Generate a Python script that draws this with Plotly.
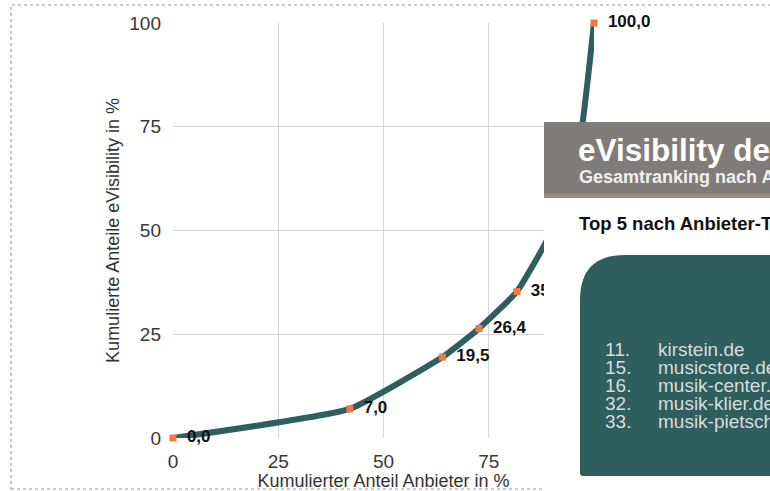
import plotly.graph_objects as go

# Data
anteil_anbieter = [0, 42, 64, 72.7, 81.7, 89, 93.5, 97, 100]
anteil_evis = [0.0, 7.0, 19.5, 26.4, 35.3, 48.0, 60.5, 74.0, 100.0]
x_ticks = [0, 25, 50, 75, 100]
y_ticks = [0, 25, 50, 75, 100]
top5_ranks = ["11.", "15.", "16.", "32.", "33."]
top5_domains = ["kirstein.de", "musicstore.de", "musik-center.de", "musik-klier.de", "musik-pietsch.de"]

W, H = 770, 491
L, R, T, B = 173, 176, 23, 53
PW, PH = W - L - R, H - T - B
FONT = "Liberation Sans, Arial"


def px(x):
    return (x - L) / PW


def py(y):
    return (H - B - y) / PH


labels = ["\u2002" + f"{v:.1f}".replace(".", ",") for v in anteil_evis]
positions = ["middle right"] * len(labels)
positions[-2] = "bottom right"

fig = go.Figure()
fig.add_trace(go.Scatter(
    x=anteil_anbieter, y=anteil_evis,
    mode="lines+markers+text",
    line=dict(color="#2e5e5e", width=6, shape="spline", smoothing=0.4),
    marker=dict(symbol="square", size=7, color="#f07c3c"),
    text=labels, textposition=positions,
    textfont=dict(family=FONT, size=17, color="#111111", weight="bold"),
    cliponaxis=False, hoverinfo="skip", showlegend=False,
))

axis_common = dict(
    range=[0, 100], showgrid=True, gridcolor="#d4d4d4", gridwidth=1.3,
    zeroline=False, showline=False, ticks="", automargin=False,
    tickfont=dict(family=FONT, size=19, color="#383838"),
    title_font=dict(family=FONT, size=18, color="#333333"),
)
fig.update_xaxes(**axis_common, tickvals=x_ticks, ticktext=[str(v) for v in x_ticks],
                 ticklabelstandoff=10,
                 title_text="Kumulierter Anteil Anbieter in %", title_standoff=0)
fig.update_yaxes(**axis_common, tickvals=y_ticks, ticktext=[str(v) for v in y_ticks],
                 ticklabelstandoff=11,
                 title_text="Kumulierte Anteile eVisibility in %", title_standoff=4)

shapes = []
# dashed outer border
shapes.append(dict(type="rect", xref="paper", yref="paper",
                   x0=px(11), x1=px(800), y0=py(489), y1=py(5),
                   line=dict(color="#9a9a9a", width=1.2, dash="dot"), layer="below"))
# overlay white background
shapes.append(dict(type="rect", xref="paper", yref="paper",
                   x0=px(544), x1=px(800), y0=py(495), y1=py(122),
                   fillcolor="white", line=dict(width=0), layer="above"))
# grey header
shapes.append(dict(type="rect", xref="paper", yref="paper",
                   x0=px(544), x1=px(800), y0=py(194), y1=py(122),
                   fillcolor="#7f7c7a", line=dict(width=0), layer="above"))
# brownish underline
shapes.append(dict(type="rect", xref="paper", yref="paper",
                   x0=px(544), x1=px(800), y0=py(198), y1=py(194),
                   fillcolor="#a08878", line=dict(width=0), layer="above"))
# teal rounded box
x0, x1, y0, y1, r = 580, 800, 255, 476, 45
path = (f"M {px(x0)},{py(y0 + r)} Q {px(x0)},{py(y0)} {px(x0 + r)},{py(y0)} "
        f"L {px(x1)},{py(y0)} L {px(x1)},{py(y1)} L {px(x0 + 3)},{py(y1)} "
        f"Q {px(x0)},{py(y1)} {px(x0)},{py(y1 - 3)} Z")
shapes.append(dict(type="path", xref="paper", yref="paper", path=path,
                   fillcolor="#2f5e5e", line=dict(width=0), layer="above"))

annotations = []
annotations.append(dict(xref="paper", yref="paper", x=px(576), y=py(150),
                        text="<b>eVisibility der Musikinstrumentenhändler</b>", showarrow=False,
                        xanchor="left", yanchor="middle",
                        font=dict(family=FONT, size=31.5, color="white")))
annotations.append(dict(xref="paper", yref="paper", x=px(577), y=py(177),
                        text="<b>Gesamtranking nach Anbietern</b>", showarrow=False,
                        xanchor="left", yanchor="middle",
                        font=dict(family=FONT, size=18, color="#f0f0f0")))
annotations.append(dict(xref="paper", yref="paper", x=px(577), y=py(223),
                        text="<b>Top 5 nach Anbieter-Typ</b>", showarrow=False,
                        xanchor="left", yanchor="middle",
                        font=dict(family=FONT, size=18.5, color="#111111")))
row_y = [349, 367, 385, 403, 421]
for rk, dom, yy in zip(top5_ranks, top5_domains, row_y):
    annotations.append(dict(xref="paper", yref="paper", x=px(603), y=py(yy), text=rk,
                            showarrow=False, xanchor="left", yanchor="middle",
                            font=dict(family=FONT, size=19, color="#d6dddd")))
    annotations.append(dict(xref="paper", yref="paper", x=px(656), y=py(yy), text=dom,
                            showarrow=False, xanchor="left", yanchor="middle",
                            font=dict(family=FONT, size=19, color="#d6dddd")))

fig.update_layout(
    width=W, height=H,
    margin=dict(l=L, r=R, t=T, b=B),
    paper_bgcolor="white", plot_bgcolor="white",
    shapes=shapes, annotations=annotations,
)

fig.write_html("out.html", config={"displayModeBar": False},
               post_script="document.body.style.margin='0';document.body.style.overflow='hidden';")
